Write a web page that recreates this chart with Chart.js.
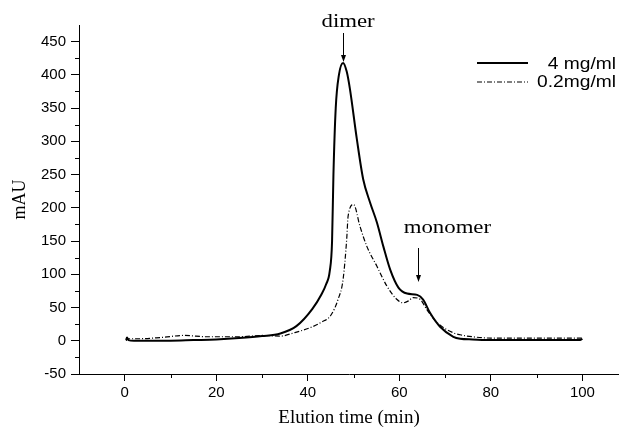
<!DOCTYPE html>
<html>
<head>
<meta charset="utf-8">
<script src="https://cdn.jsdelivr.net/npm/chart.js@4.4.1/dist/chart.umd.min.js"></script>
<style>
  html, body { margin: 0; padding: 0; background: #fff; }
  #wrap { width: 619px; height: 429px; }
</style>
</head>
<body>
<div id="wrap"><canvas id="c" width="619" height="429"></canvas></div>
<script>
// elution time (min) and absorbance (mAU)
const timeSolid = [0.3, 0.5, 0.8, 2, 5, 10, 15, 20, 25, 30, 34, 37.5, 41, 43, 44, 44.8, 45.3, 45.6, 46.1, 46.8, 47.7, 48.5, 49.2, 50.7, 52.1, 53.6, 55.1, 56.5, 58, 59.8, 61.7, 63.9, 65.2, 66.7, 68.9, 71.8, 73.3, 76, 80, 85, 90, 95, 99.5, 100];
const solid4 = [1, 5, 1, 0, 0, 0, 1, 2, 4, 7, 11, 22, 48, 70, 85, 105, 150, 250, 350, 400, 418, 405, 379, 304, 243, 208, 178, 142, 107, 80, 71, 69, 62, 42, 21, 6, 3, 2, 1, 1, 1, 1, 1, 3];

const timeDash = [0.3, 0.6, 3, 8, 13, 18, 25, 30, 34, 37, 41, 43, 45, 46.6, 47.7, 48.5, 48.8, 50, 51.4, 52.9, 55.1, 57.3, 59.5, 60.8, 62, 63, 64.6, 66, 68.3, 71.8, 73.3, 76, 80, 90, 100];
const dash02 = [0, 3, 3, 5, 8, 6, 6, 8, 7, 12, 21, 28, 38, 62, 92, 153, 187, 205, 172, 142, 112, 82, 62, 57, 60, 65, 62, 47, 27, 12, 9, 6, 4, 4, 4];

const seriesNames = ['4 mg/ml', '0.2mg/ml'];
const xTicks = [0, 20, 40, 60, 80, 100];
const yTicks = [-50, 0, 50, 100, 150, 200, 250, 300, 350, 400, 450];
const xMinor = [10, 30, 50, 70, 90];
const yMinor = [-25, 25, 75, 125, 175, 225, 275, 325, 375, 425];

function pairs(xs, ys) {
    return xs.map((t, i) => ({x: t, y: ys[i]}));
}

function stretchText(ctx, str, x, y, align) {
    ctx.save();
    ctx.translate(x, y);
    ctx.scale(1.2, 1);
    ctx.textAlign = align;
    ctx.fillText(str, 0, 0);
    ctx.restore();
}

function arrow(ctx, px, y1, y2) {
    ctx.beginPath();
    ctx.moveTo(px, y1);
    ctx.lineTo(px, y2 - 6);
    ctx.stroke();
    ctx.beginPath();
    ctx.moveTo(px - 2.5, y2 - 7);
    ctx.lineTo(px + 2.5, y2 - 7);
    ctx.lineTo(px, y2);
    ctx.closePath();
    ctx.fill();
}

const extras = {
    id: 'extras',
    afterDraw(chart) {
        const {ctx, chartArea} = chart;
        const x = chart.scales.x, y = chart.scales.y;
        ctx.save();
        ctx.strokeStyle = '#000';
        ctx.fillStyle = '#000';
        ctx.lineWidth = 1;

        // minor ticks
        xMinor.forEach(v => {
            let px = Math.round(x.getPixelForValue(v)) + 0.5;
            ctx.beginPath();
            ctx.moveTo(px, chartArea.bottom);
            ctx.lineTo(px, chartArea.bottom + 4);
            ctx.stroke();
        });
        yMinor.forEach(v => {
            let py = Math.round(y.getPixelForValue(v)) + 0.5;
            ctx.beginPath();
            ctx.moveTo(chartArea.left, py);
            ctx.lineTo(chartArea.left - 4, py);
            ctx.stroke();
        });

        // peak labels
        ctx.font = '19px "Liberation Serif", "Times New Roman", serif';
        ctx.textBaseline = 'alphabetic';
        stretchText(ctx, 'dimer', x.getPixelForValue(48.8), 27, 'center');
        arrow(ctx, Math.round(x.getPixelForValue(47.7)) + 0.5, 33, 62);
        stretchText(ctx, 'monomer', x.getPixelForValue(70.5), 233, 'center');
        arrow(ctx, Math.round(x.getPixelForValue(64.1)) + 0.5, 248, 282);

        // legend
        ctx.lineWidth = 2;
        ctx.beginPath();
        ctx.moveTo(477, 63);
        ctx.lineTo(528, 63);
        ctx.stroke();
        ctx.lineWidth = 1.2;
        ctx.setLineDash([5, 2, 1, 2]);
        ctx.beginPath();
        ctx.moveTo(477, 82);
        ctx.lineTo(528, 82);
        ctx.stroke();
        ctx.setLineDash([]);
        ctx.font = '16px "Liberation Sans", Arial, sans-serif';
        stretchText(ctx, seriesNames[0], 616, 69, 'right');
        stretchText(ctx, seriesNames[1], 616, 87, 'right');
        ctx.restore();
    }
};

new Chart(document.getElementById('c'), {
    type: 'line',
    data: {
        datasets: [
            {
                label: seriesNames[0],
                data: pairs(timeSolid, solid4),
                borderColor: '#000',
                borderWidth: 2,
                pointRadius: 0,
                cubicInterpolationMode: 'monotone'
            },
            {
                label: seriesNames[1],
                data: pairs(timeDash, dash02),
                borderColor: '#000',
                borderWidth: 1.2,
                borderDash: [5, 2, 1, 2],
                pointRadius: 0,
                cubicInterpolationMode: 'monotone'
            }
        ]
    },
    options: {
        responsive: false,
        animation: false,
        layout: { padding: { top: 25, right: 0, left: 0, bottom: 0 } },
        plugins: {
            legend: { display: false },
            tooltip: { enabled: false }
        },
        scales: {
            x: {
                type: 'linear',
                min: -10,
                max: 108,
                afterBuildTicks: s => { s.ticks = xTicks.map(v => ({value: v})); },
                afterFit: s => { s.height = 55; },
                grid: { drawOnChartArea: false, tickLength: 7, tickColor: '#000' },
                border: { color: '#000', width: 1 },
                ticks: { color: '#000', padding: 3, font: { family: '"Liberation Sans", Arial, sans-serif', size: 15 } },
                title: {
                    display: true,
                    text: 'Elution time (min)',
                    color: '#000',
                    padding: { top: 0, bottom: 0 },
                    font: { family: '"Liberation Serif", "Times New Roman", serif', size: 19 }
                }
            },
            y: {
                min: -50,
                max: 475,
                afterBuildTicks: s => { s.ticks = yTicks.map(v => ({value: v})); },
                afterFit: s => { s.width = 79; },
                grid: { drawOnChartArea: false, tickLength: 8, tickColor: '#000' },
                border: { color: '#000', width: 1 },
                ticks: { color: '#000', padding: 5, font: { family: '"Liberation Sans", Arial, sans-serif', size: 15 } },
                title: {
                    display: true,
                    text: 'mAU',
                    color: '#000',
                    padding: { top: 9, bottom: 0 },
                    font: { family: '"Liberation Serif", "Times New Roman", serif', size: 18 }
                }
            }
        }
    },
    plugins: [extras]
});
</script>
</body>
</html>
